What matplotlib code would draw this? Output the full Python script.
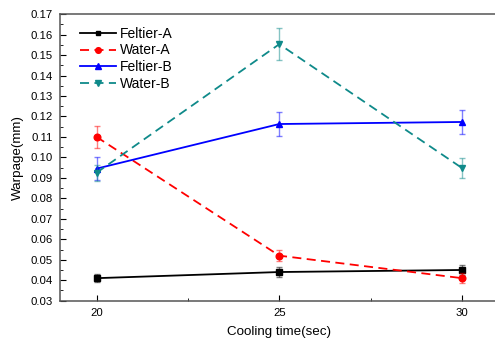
import matplotlib
matplotlib.use('Agg')
import matplotlib.pyplot as plt
from matplotlib.ticker import MultipleLocator

plt.rcParams['font.family'] = ['Liberation Sans', 'DejaVu Sans']

cooling_time = [20, 25, 30]

feltier_a = [0.041, 0.044, 0.045]
feltier_a_err = [0.0018, 0.0023, 0.0025]
water_a = [0.110, 0.052, 0.041]
water_a_err = [0.0054, 0.0027, 0.0025]
feltier_b = [0.0945, 0.1163, 0.1173]
feltier_b_err = [0.0055, 0.006, 0.006]
water_b = [0.0925, 0.1553, 0.0948]
water_b_err = [0.004, 0.0077, 0.0047]

fig = plt.figure(figsize=(4.95, 3.42), dpi=100)
ax = fig.add_axes([0.1212, 0.1208, 0.886, 0.838])

series = [
    ('Feltier-A', feltier_a, feltier_a_err, 'black', '-', 's', 3.8),
    ('Water-A', water_a, water_a_err, 'red', (0, (5, 3)), 'o', 4.8),
    ('Feltier-B', feltier_b, feltier_b_err, 'blue', '-', '^', 4.8),
    ('Water-B', water_b, water_b_err, '#0f8a8a', (0, (5, 3)), 'v', 4.8),
]

for name, vals, errs, color, ls, mk, ms in series:
    ax.errorbar(cooling_time, vals, yerr=errs, fmt='none', ecolor=color,
                alpha=0.5, elinewidth=1, capsize=2.5, capthick=1)
    ax.plot(cooling_time, vals, color=color, linestyle=ls, marker=mk,
            markersize=ms, linewidth=1.3, label=name)

ax.set_xlim(19, 31)
ax.set_ylim(0.03, 0.17)
ax.set_xticks(cooling_time)
ax.xaxis.set_minor_locator(MultipleLocator(2.5))
ax.yaxis.set_major_locator(MultipleLocator(0.01))
ax.yaxis.set_minor_locator(MultipleLocator(0.005))
ax.yaxis.set_major_formatter(matplotlib.ticker.FormatStrFormatter('%.2f'))
ax.tick_params(which='both', direction='in', labelsize=8.2, top=False, right=False)
ax.tick_params(which='major', length=4)
ax.tick_params(which='minor', length=2.5)
ax.tick_params(axis='x', pad=5)
ax.tick_params(axis='y', pad=5)

for s in ax.spines.values():
    s.set_color('#555555')
    s.set_linewidth(1.1)

ax.set_xlabel('Cooling time(sec)', fontsize=9.6, labelpad=6)
ax.set_ylabel('Warpage(mm)', fontsize=9.6, labelpad=5)

ax.legend(loc='upper left', frameon=False, fontsize=10, handlelength=2.6,
          labelspacing=0.2, borderaxespad=0.4, handletextpad=0.25,
          markerscale=0.85, bbox_to_anchor=(0.02, 0.995))

fig.savefig('out.png', dpi=100)
